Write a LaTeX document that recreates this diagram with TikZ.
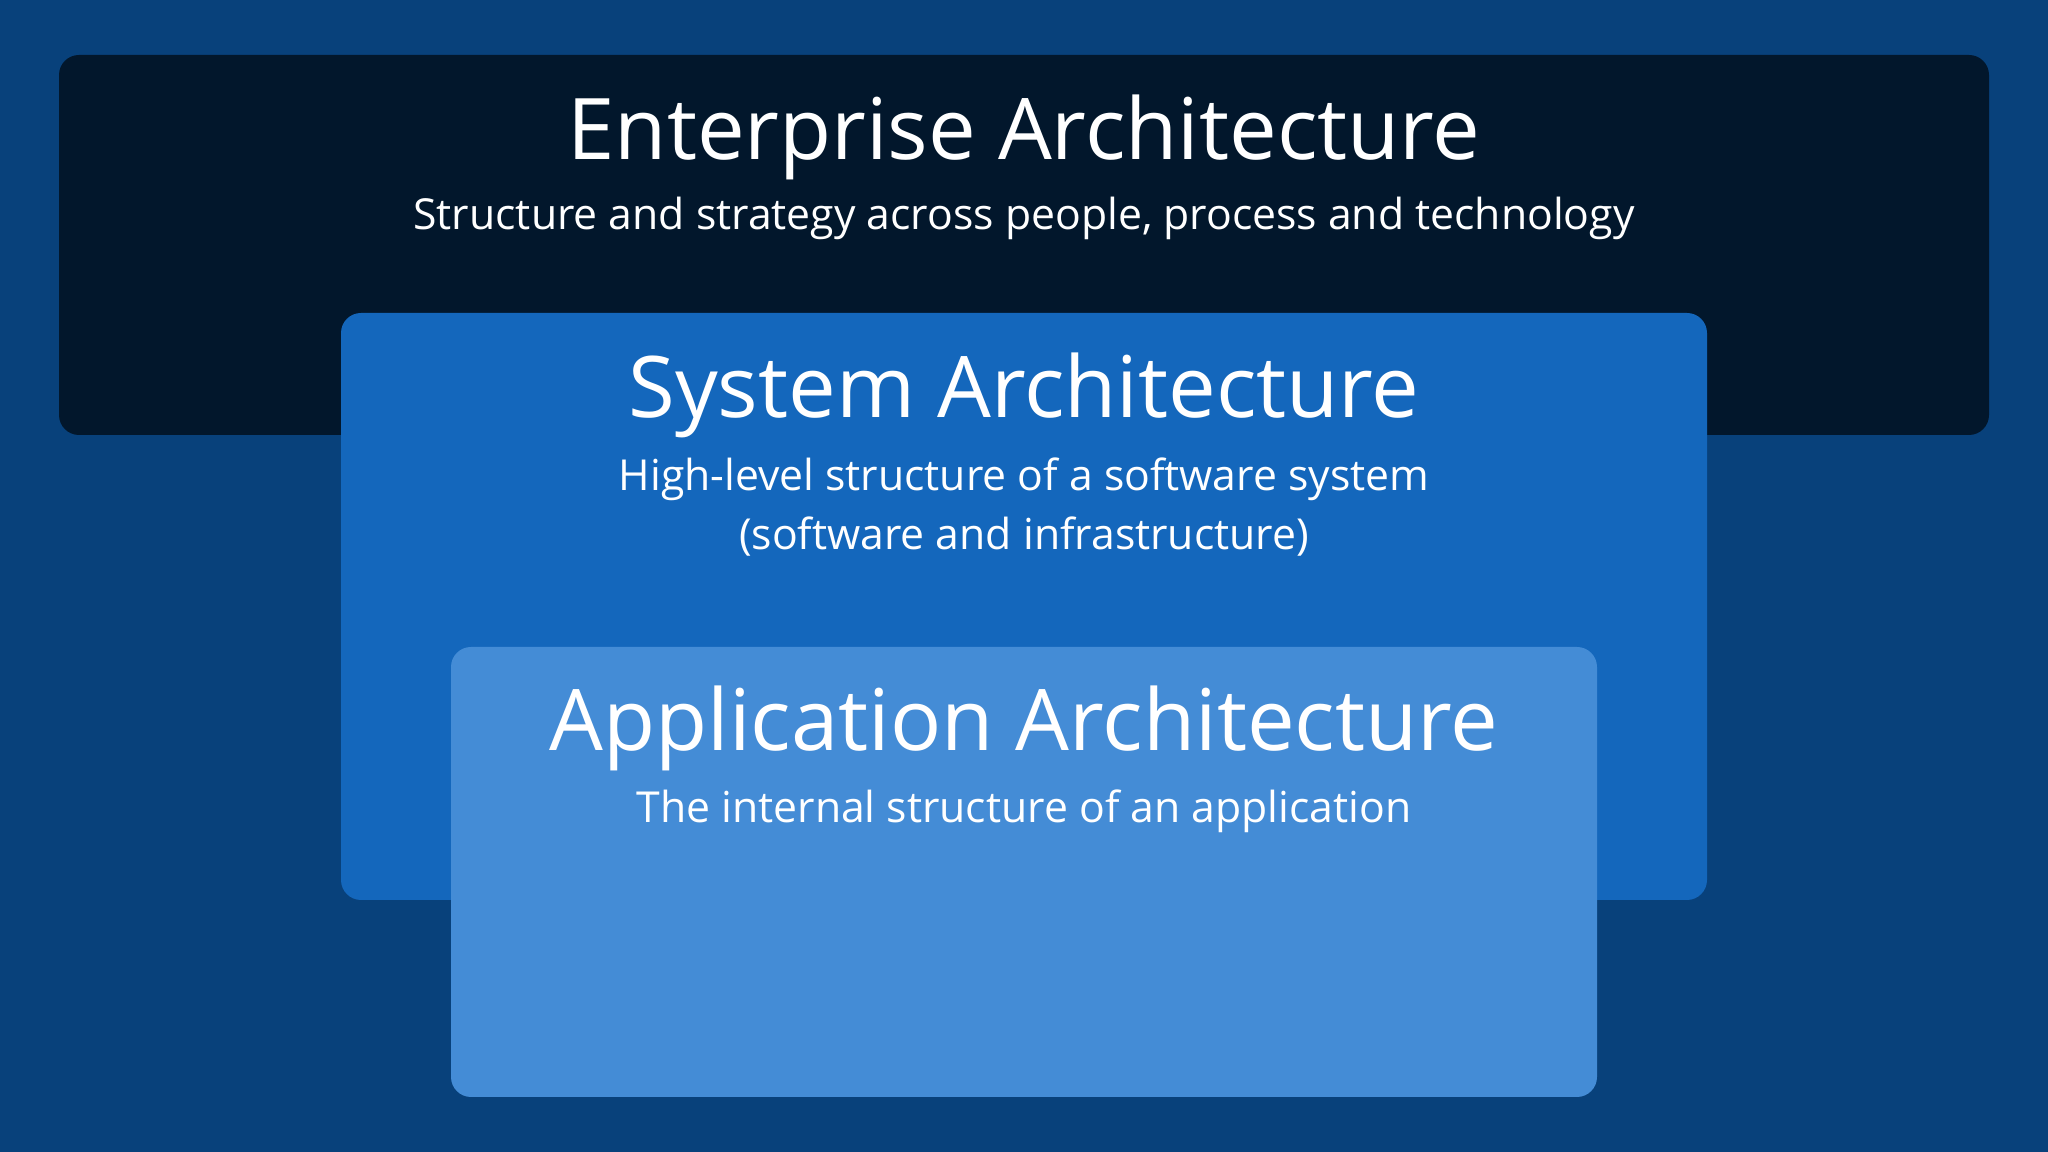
\documentclass[tikz,border=0pt]{standalone}
\usepackage{fontspec}
\setmainfont{Open Sans}
\usetikzlibrary{positioning}
\definecolor{backgroundblue}{RGB}{8, 65, 123}
\definecolor{enterprisenavy}{RGB}{2, 23, 44}
\definecolor{systemblue}{RGB}{20, 103, 188}
\definecolor{applicationblue}{RGB}{68, 140, 214}

\begin{document}
\begin{tikzpicture}[
enterprise_layer/.style={rounded corners=2mm, fill=enterprisenavy, minimum width=19.3cm, minimum height=3.8cm},
system_layer/.style={rounded corners=2mm, fill=systemblue, minimum width=13.66cm, minimum height=5.87cm},
application_layer/.style={rounded corners=2mm, fill=applicationblue, minimum width=11.46cm, minimum height=4.5cm},
titletext/.style={text=white, inner sep=0pt, font=\fontsize{24.2}{29}\selectfont},
subtext/.style={text=white, inner sep=0pt, align=center, font=\fontsize{12.15}{16.8}\selectfont}
]
%Background
\fill[backgroundblue] (0,0) rectangle (20.48,11.52);
\useasboundingbox (0,0) rectangle (20.48,11.52);

%Nodes layers
\node[enterprise_layer] 										(enterprise_layer) at (10.24,9.07) {};
\node[system_layer, below=2.58cm of enterprise_layer.north] 	(system_layer) {};
\node[application_layer, below=3.34cm of system_layer.north] 	(application_layer) {};

%Nodes texts enterprise
\node[titletext, below=1.05cm of enterprise_layer.north, anchor=base] 	(enterprise_title) {Enterprise Architecture};
\node[subtext, below=0.70cm of enterprise_title.base, anchor=base] 		(enterprise_text) {Structure and strategy across people, process and technology};

%Nodes texts system
\node[titletext, below=1.05cm of system_layer.north, anchor=base] 		(system_title) {System Architecture};
\node[subtext, below=1.32cm of system_title.base, anchor=base] 			(system_text) {High-level structure of a software system\\(software and infrastructure)};

%Nodes texts application
\node[titletext, below=1.04cm of application_layer.north, anchor=base] 	(application_title) {Application Architecture};
\node[subtext, below=0.72cm of application_title.base, anchor=base] 	(application_text) {The internal structure of an application};

\end{tikzpicture}
\end{document}
